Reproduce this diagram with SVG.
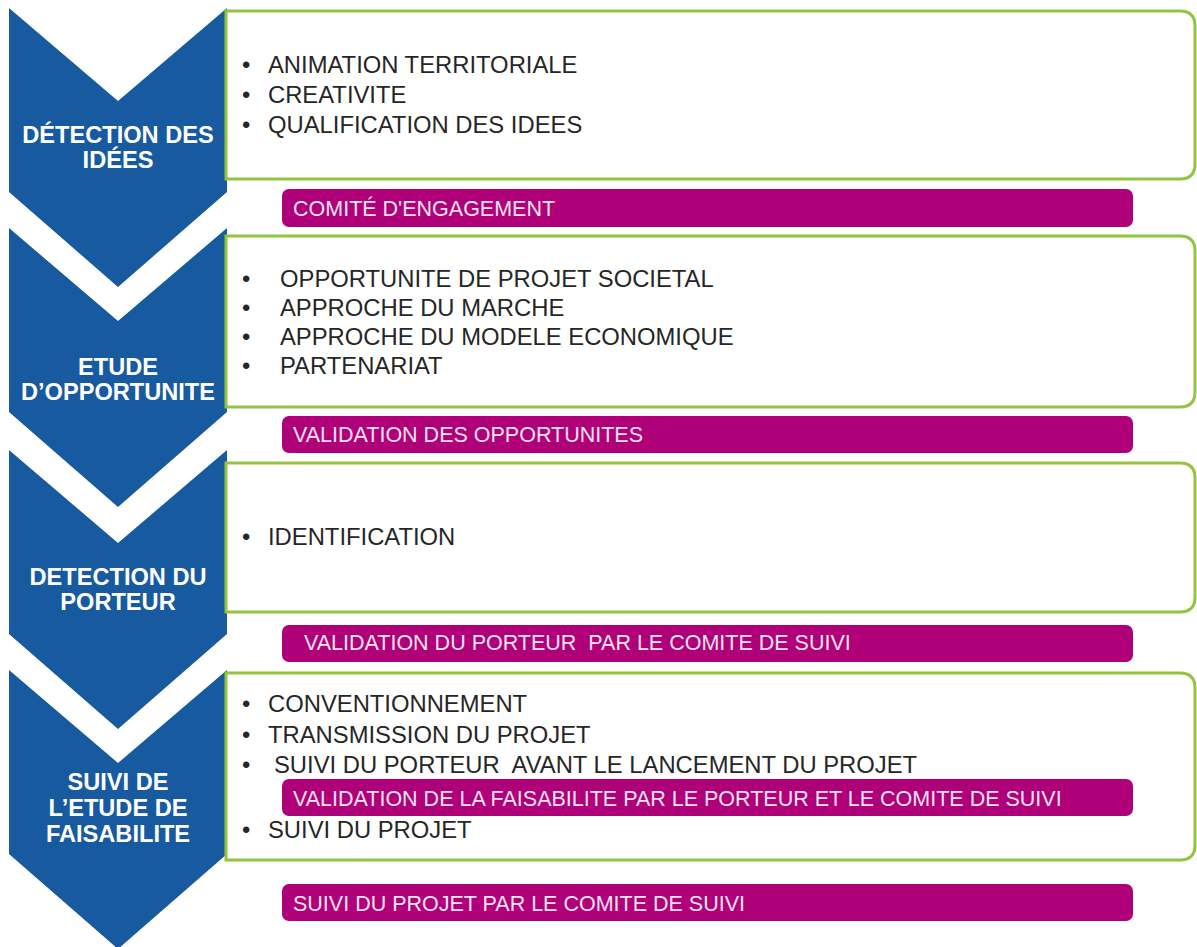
<svg xmlns="http://www.w3.org/2000/svg" width="1197" height="947" viewBox="0 0 1197 947">
<style>
.chev{fill:#175A9F}
.box{fill:#fff;stroke:#93C43D;stroke-width:3}
.bar{fill:#AF0079}
.lbl{font-family:"Liberation Sans",Arial,sans-serif;font-weight:bold;font-size:23.6px;fill:#fff;text-anchor:middle}
.item{font-family:"Liberation Sans",Arial,sans-serif;font-size:23.8px;fill:#262626;white-space:pre}
.bt{font-family:"Liberation Sans",Arial,sans-serif;font-size:21.5px;fill:#F8E2EF;white-space:pre}
</style>
<rect width="1197" height="947" fill="#fff"/>
<g id="connectors"/>
<g id="step1">
<polygon class="chev" points="9,8 118,101 227,8 227,192 118,287 9,192"/>
<text class="lbl" x="118" y="143">DÉTECTION DES</text>
<text class="lbl" x="118" y="168">IDÉES</text>
</g>
<g id="box1">
<path class="box" d="M226,11 H1180 Q1195,11 1195,26 V164 Q1195,179 1180,179 H226 Z"/>
<text class="item" x="242" y="73">•</text><text class="item" x="268" y="73">ANIMATION TERRITORIALE</text>
<text class="item" x="242" y="103">•</text><text class="item" x="268" y="103">CREATIVITE</text>
<text class="item" x="242" y="133">•</text><text class="item" x="268" y="133">QUALIFICATION DES IDEES</text>
</g>
<g id="gate1">
<rect class="bar" x="282" y="189" width="851" height="38" rx="7"/>
<text class="bt" x="293" y="216">COMITÉ D'ENGAGEMENT</text>
</g>
<g id="step2">
<polygon class="chev" points="9,228 118,321 227,228 227,412 118,507 9,412"/>
<text class="lbl" x="118" y="375">ETUDE</text>
<text class="lbl" x="118" y="400">D’OPPORTUNITE</text>
</g>
<g id="box2">
<path class="box" d="M226,236 H1180 Q1195,236 1195,251 V392 Q1195,407 1180,407 H226 Z"/>
<text class="item" x="242" y="287">•</text><text class="item" x="280" y="287">OPPORTUNITE DE PROJET SOCIETAL</text>
<text class="item" x="242" y="316">•</text><text class="item" x="280" y="316">APPROCHE DU MARCHE</text>
<text class="item" x="242" y="345">•</text><text class="item" x="280" y="345">APPROCHE DU MODELE ECONOMIQUE</text>
<text class="item" x="242" y="374">•</text><text class="item" x="280" y="374">PARTENARIAT</text>
</g>
<g id="gate2">
<rect class="bar" x="282" y="416" width="851" height="37" rx="7"/>
<text class="bt" x="293" y="442">VALIDATION DES OPPORTUNITES</text>
</g>
<g id="step3">
<polygon class="chev" points="9,450 118,543 227,450 227,634 118,729 9,634"/>
<text class="lbl" x="118" y="585">DETECTION DU</text>
<text class="lbl" x="118" y="610">PORTEUR</text>
</g>
<g id="box3">
<path class="box" d="M226,463 H1180 Q1195,463 1195,478 V597 Q1195,612 1180,612 H226 Z"/>
<text class="item" x="242" y="545">•</text><text class="item" x="268" y="545">IDENTIFICATION</text>
</g>
<g id="gate3">
<rect class="bar" x="282" y="625" width="851" height="37" rx="7"/>
<text class="bt" x="304" y="650">VALIDATION DU PORTEUR  PAR LE COMITE DE SUIVI</text>
</g>
<g id="step4">
<polygon class="chev" points="9,670 118,763 227,670 227,854 118,949 9,854"/>
<text class="lbl" x="118" y="790">SUIVI DE</text>
<text class="lbl" x="118" y="816">L’ETUDE DE</text>
<text class="lbl" x="118" y="842">FAISABILITE</text>
</g>
<g id="box4">
<path class="box" d="M226,673 H1180 Q1195,673 1195,688 V845 Q1195,860 1180,860 H226 Z"/>
<text class="item" x="242" y="712">•</text><text class="item" x="268" y="712">CONVENTIONNEMENT</text>
<text class="item" x="242" y="743">•</text><text class="item" x="268" y="743">TRANSMISSION DU PROJET</text>
<text class="item" x="242" y="773">•</text><text class="item" x="274" y="773">SUIVI DU PORTEUR  AVANT LE LANCEMENT DU PROJET</text>
<text class="item" x="242" y="838">•</text><text class="item" x="268" y="838">SUIVI DU PROJET</text>
</g>
<g id="gate4">
<rect class="bar" x="282" y="779" width="851" height="37" rx="7"/>
<text class="bt" x="293" y="806">VALIDATION DE LA FAISABILITE PAR LE PORTEUR ET LE COMITE DE SUIVI</text>
</g>
<g id="gate5">
<rect class="bar" x="282" y="884" width="851" height="37" rx="7"/>
<text class="bt" x="293" y="911">SUIVI DU PROJET PAR LE COMITE DE SUIVI</text>
</g>
</svg>
